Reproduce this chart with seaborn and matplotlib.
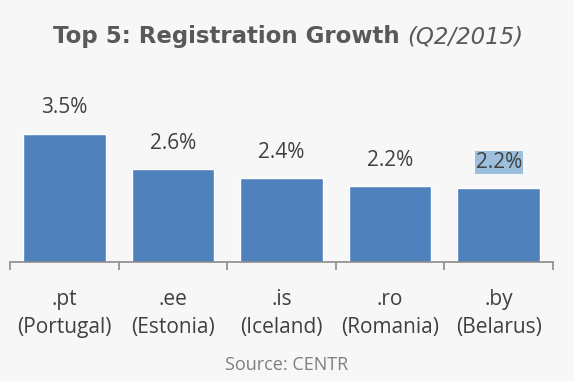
#!/usr/bin/env python3
"""
Top 5 ccTLD registration growth, Q2/2015 (source: CENTR)
"""

import pandas as pd
import matplotlib
matplotlib.use('Agg')
import matplotlib.pyplot as plt
from matplotlib.ticker import FixedLocator
import seaborn as sns

# 데이터
tlds = ['.pt', '.ee', '.is', '.ro', '.by']
countries = ['Portugal', 'Estonia', 'Iceland', 'Romania', 'Belarus']
growth = [3.5, 2.64, 2.43, 2.24, 2.19]

BG = '#f7f7f7'
BAR = '#4f81bd'

sns.set_style('white')
plt.rcParams['font.family'] = ['Open Sans', 'DejaVu Sans']

df = pd.DataFrame({
    'label': [f'{t}\n({c})' for t, c in zip(tlds, countries)],
    'growth': growth,
})

fig = plt.figure(figsize=(5.74, 3.81), dpi=100, facecolor=BG)
ax = fig.add_axes([0.0174, 0.312, 0.946, 0.457])
ax.set_facecolor(BG)

sns.barplot(data=df, x='label', y='growth', color=BAR, saturation=1,
            width=0.76, ax=ax)

ax.set_ylim(0.4, 4.6)
ax.set_xlim(-0.5, len(tlds) - 0.5)

# 값 라벨
for i, v in enumerate(growth):
    kw = {}
    if i == len(growth) - 1:
        kw['bbox'] = dict(boxstyle='square,pad=0.05', fc='#9bbfdc', ec='none')
    ax.annotate(f'{v:.1f}%', (i, v), xytext=(0, 11), textcoords='offset points',
                ha='center', va='bottom', fontsize=15, color='#404040', **kw)

# 축 스타일
for s in ['top', 'left', 'right']:
    ax.spines[s].set_visible(False)
ax.spines['bottom'].set_color('#8c8c8c')
ax.spines['bottom'].set_linewidth(1.2)
ax.set_yticks([])
ax.set_xlabel('')
ax.set_ylabel('')
ax.xaxis.set_minor_locator(FixedLocator([x - 0.5 for x in range(len(tlds) + 1)]))
ax.tick_params(axis='x', which='major', length=0, pad=19,
               labelsize=15, labelcolor='#404040')
ax.tick_params(axis='x', which='minor', length=6, width=1.2,
               color='#8c8c8c', bottom=True)
for lbl in ax.get_xticklabels():
    lbl.set_linespacing(1.45)

# 제목 (굵게 + 기울임)
t1 = fig.text(53 / 574, 1 - 37 / 381, 'Top 5: Registration Growth', ha='left',
              va='center', fontsize=16.5, fontweight='bold', color='#595959',
              family=['DejaVu Sans'])
fig.canvas.draw()
bb = t1.get_window_extent()
x2 = (bb.x1 + 8) / fig.bbox.width
fig.text(x2, 1 - 37 / 381, '(Q2/2015)', ha='left', va='center',
         fontsize=16.5, fontstyle='italic', color='#595959',
         family=['DejaVu Sans'])

fig.text(0.5, 1 - 365 / 381, 'Source: CENTR', ha='center', va='center',
         fontsize=13, color='#7f7f7f')

plt.savefig('out.png', dpi=100, facecolor=BG)
plt.close()
